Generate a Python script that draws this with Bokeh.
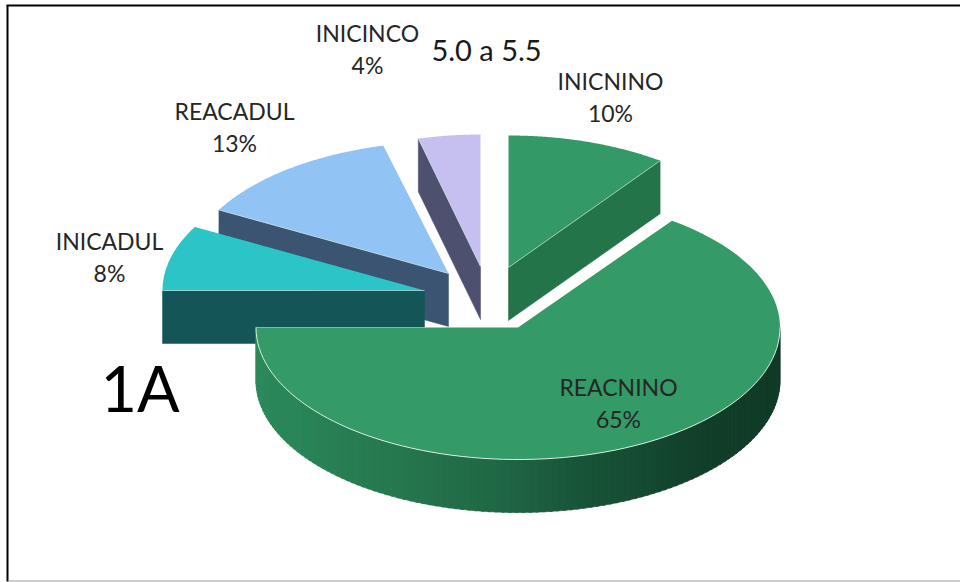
import numpy as np
from bokeh.plotting import figure
from bokeh.models import ColumnDataSource, Range1d
from bokeh.core.properties import value
from bokeh.embed import file_html
from bokeh.resources import INLINE

# data (clockwise from 12 o'clock)
categories = ["INICNINO", "REACNINO", "INICADUL", "REACADUL", "INICINCO"]
shares = [10, 65, 8, 13, 4]
subtitle = "5.0 a 5.5"
panel_tag = "1A"

# style
top_colors = ["#339966", "#349A67", "#2BC5C8", "#92C3F5", "#C6C0F0"]
cut_colors = ["#24744A", "#1B5A3B", "#145657", "#3A5472", "#4E5070"]
apex_x = [508, 517.5, 424, 448, 480]
apex_y = [267, 327, 290, 273, 266]
slice_rx = [258, 262, 262, 262, 250]
label_x = [610, 618, 109, 234, 367]
label_y = [80, 386, 240, 110, 32]
draw_order = [4, 3, 2, 0, 1]
RY, DEPTH = 132, 53
wall_stops_t = [90, 110, 135, 165, 185, 205, 235, 270]
wall_stops_rgb = [(15, 56, 38), (16, 60, 40), (18, 63, 42), (24, 84, 56), (33, 104, 70),
                  (38, 118, 78), (42, 133, 88), (44, 140, 92)]

p = figure(width=960, height=582, x_range=Range1d(0, 960), y_range=Range1d(582, 0),
           toolbar_location=None, output_backend="svg", min_border=0,
           outline_line_color=None, background_fill_color="white",
           border_fill_color="white")
p.axis.visible = False
p.grid.visible = False


def rim(cx, cy, rad, t0, t1, n=80):
    t = np.radians(np.linspace(t0, t1, n))
    return cx + rad * np.sin(t), cy - RY * np.cos(t)


edges = np.cumsum([0] + shares) * 3.6
for i in draw_order:
    t0, t1 = edges[i], edges[i + 1]
    cx, cy, rad = apex_x[i], apex_y[i], slice_rx[i]
    # the cut face turned towards the viewer
    if i == 0:
        t_cut = t1
    elif i == 1:
        t_cut = None
    else:
        t_cut = t0
    if t_cut is not None:
        rx, ry = rim(cx, cy, rad, t_cut, t_cut, 1)
        p.patch([cx, rx[0], rx[0], cx], [cy, ry[0], ry[0] + DEPTH, cy + DEPTH],
                fill_color=cut_colors[i], line_color=cut_colors[i], line_width=0.5)
    # outer wall strips
    a, b = max(t0, 90), min(t1, 270)
    if b > a:
        ts = np.linspace(a, b, 121)
        xs, ys, cols = [], [], []
        for u, v in zip(ts[:-1], ts[1:]):
            xa, ya = rim(cx, cy, rad, u, u, 1)
            xb, yb = rim(cx, cy, rad, v + 0.6, v + 0.6, 1)
            xs.append([xa[0], xb[0], xb[0], xa[0]])
            ys.append([ya[0], yb[0], yb[0] + DEPTH, ya[0] + DEPTH])
            m = (u + v) / 2
            c = [int(np.interp(m, wall_stops_t, [s[k] for s in wall_stops_rgb])) for k in range(3)]
            cols.append("#%02x%02x%02x" % tuple(c))
        p.patches(xs, ys, fill_color=cols, line_color=cols, line_width=0.6)
    # top face
    ex, ey = rim(cx, cy, rad, t0, t1)
    p.patch(np.r_[cx, ex], np.r_[cy, ey], fill_color=top_colors[i], line_color=None)
    # light rim where top meets the wall
    if b > a:
        hx, hy = rim(cx, cy, rad, a, b)
        p.line(hx, hy, line_color="#d5eee0", line_width=1)
    if t_cut is not None:
        rx, ry = rim(cx, cy, rad, t_cut, t_cut, 1)
        p.line([cx, rx[0]], [cy, ry[0]], line_color="#cfe9e6", line_width=0.8, line_alpha=0.8)
    if i == 1:
        rx, ry = rim(cx, cy, rad, t1, t1, 1)
        p.line([cx, rx[0]], [cy, ry[0]], line_color="#8fd0ae", line_width=0.8)

# labels
txt = ColumnDataSource(dict(
    x=label_x + label_x,
    y=label_y + [v + 32 for v in label_y],
    s=categories + [f"{v}%" for v in shares],
))
p.text("x", "y", "s", source=txt, text_font=value("Lato"), text_font_size="23px",
       text_align="center", text_baseline="middle", text_color="#262626")
p.text([486], [49], [subtitle], text_font=value("Lato"), text_font_size="29px",
       text_align="center", text_baseline="middle", text_color="#1a1a1a")
p.text([139.5], [387], [panel_tag], text_font=value("Lato"), text_font_size="63px",
       text_align="center", text_baseline="middle", text_color="#000000")

# picture frame
p.line([7, 7], [5, 581], line_color="#000000", line_width=2)
p.line([6, 960], [5, 5], line_color="#000000", line_width=2)
p.line([8, 960], [580.5, 580.5], line_color="#9a9a9a", line_width=1)

open("out.html", "w").write(file_html(p, INLINE))
